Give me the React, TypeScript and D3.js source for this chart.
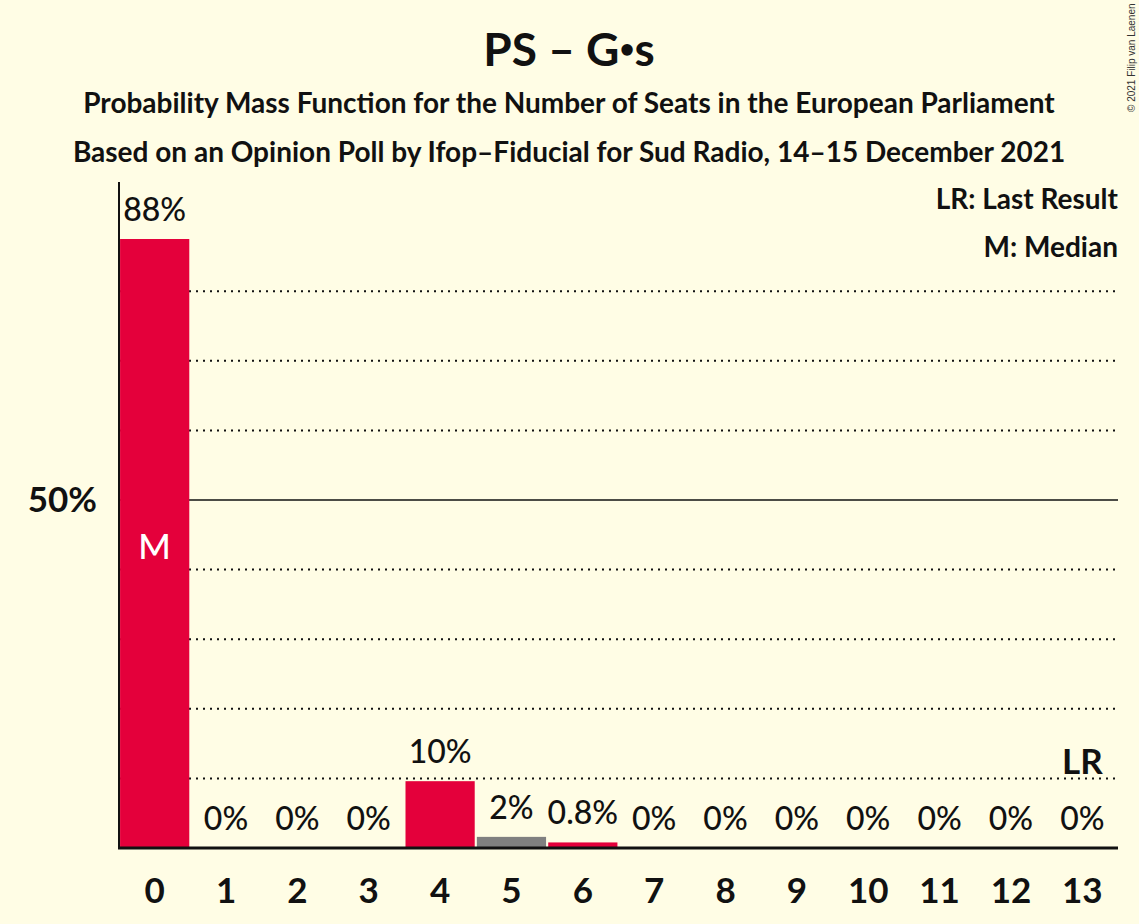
import { useRef, useEffect } from "react";
import * as d3 from "d3";

const seats = [0, 1, 2, 3, 4, 5, 6, 7, 8, 9, 10, 11, 12, 13];
const probs = [0.875, 0, 0, 0, 0.096, 0.016, 0.008, 0, 0, 0, 0, 0, 0, 0];
const labels = ["88%", "0%", "0%", "0%", "10%", "2%", "0.8%", "0%", "0%", "0%", "0%", "0%", "0%", "0%"];
const barColors = ["#E4003B", "#E4003B", "#E4003B", "#E4003B", "#E4003B", "#808080", "#E4003B", "#E4003B", "#E4003B", "#E4003B", "#E4003B", "#E4003B", "#E4003B", "#E4003B"];
const gridTicks = [0.1, 0.2, 0.3, 0.4, 0.6, 0.7, 0.8];
const medianSeat = 0;
const lastResultSeat = 13;

const W = 1139;
const H = 924;
const FONT = "Lato, 'Open Sans', sans-serif";
const BG = "#FFFDE5";

export default function App() {
  const ref = useRef<SVGSVGElement>(null);
  useEffect(() => {
    document.body.style.margin = "0";
    if (!ref.current) return;
    const svg = d3.select(ref.current);
    svg.selectAll("*").remove();

    const left = 119;
    const right = 1118;
    const base = 848;

    const x = d3.scaleBand<number>().domain(seats).range([left, right]).paddingInner(0.03).paddingOuter(0.015);
    const y = d3.scaleLinear().domain([0, 1]).range([base, 152]);

    svg.append("rect").attr("width", W).attr("height", H).attr("fill", BG);

    // gridlines
    svg.selectAll("line.grid")
      .data(gridTicks)
      .join("line")
      .attr("x1", left)
      .attr("x2", right)
      .attr("y1", (d) => y(d))
      .attr("y2", (d) => y(d))
      .attr("stroke", "#111")
      .attr("stroke-width", 2)
      .attr("stroke-dasharray", "2,5");

    svg.append("line")
      .attr("x1", left).attr("x2", right)
      .attr("y1", y(0.5)).attr("y2", y(0.5))
      .attr("stroke", "#111").attr("stroke-width", 1.5);

    // bars
    svg.selectAll("rect.bar")
      .data(seats)
      .join("rect")
      .attr("x", (d) => x(d)!)
      .attr("width", x.bandwidth())
      .attr("y", (d) => y(probs[d]))
      .attr("height", (d) => base - y(probs[d]))
      .attr("fill", (d) => barColors[d]);

    // value labels
    svg.selectAll("text.val")
      .data(seats)
      .join("text")
      .attr("x", (d) => x(d)! + x.bandwidth() / 2)
      .attr("y", (d) => y(probs[d]) - 18)
      .attr("text-anchor", "middle")
      .attr("font-family", FONT)
      .attr("font-size", 32)
      .attr("font-weight", 500)
      .attr("fill", "#111")
      .text((d) => labels[d]);

    // median marker
    svg.append("text")
      .attr("x", x(medianSeat)! + x.bandwidth() / 2)
      .attr("y", y(0.5) + 59)
      .attr("text-anchor", "middle")
      .attr("font-family", FONT)
      .attr("font-size", 35)
      .attr("font-weight", 500)
      .attr("fill", "#fff")
      .text("M");

    // last result marker
    svg.append("text")
      .attr("x", x(lastResultSeat)! + x.bandwidth() / 2)
      .attr("y", y(0.1) - 4)
      .attr("text-anchor", "middle")
      .attr("font-family", FONT)
      .attr("font-size", 35)
      .attr("font-weight", 700)
      .attr("fill", "#111")
      .text("LR");

    // axes
    svg.append("line")
      .attr("x1", left).attr("x2", left)
      .attr("y1", 182).attr("y2", base + 1)
      .attr("stroke", "#111").attr("stroke-width", 2);
    svg.append("line")
      .attr("x1", left - 1).attr("x2", right)
      .attr("y1", base).attr("y2", base)
      .attr("stroke", "#111").attr("stroke-width", 3);

    svg.selectAll("text.xt")
      .data(seats)
      .join("text")
      .attr("x", (d) => x(d)! + x.bandwidth() / 2)
      .attr("y", 903)
      .attr("text-anchor", "middle")
      .attr("font-family", FONT)
      .attr("font-size", 35)
      .attr("font-weight", 700)
      .attr("fill", "#111")
      .text((d) => String(d));

    svg.append("text")
      .attr("x", 97)
      .attr("y", y(0.5) + 12)
      .attr("text-anchor", "end")
      .attr("font-family", FONT)
      .attr("font-size", 35)
      .attr("font-weight", 700)
      .attr("fill", "#111")
      .text("50%");

    // titles
    const title = svg.append("text")
      .attr("x", 569).attr("y", 66)
      .attr("text-anchor", "middle")
      .attr("font-family", FONT).attr("font-size", 46).attr("font-weight", 700)
      .attr("fill", "#111");
    title.append("tspan").text("PS – G");
    title.append("tspan").attr("font-size", 26).attr("dy", -8).text("•");
    title.append("tspan").attr("dy", 8).text("s");

    svg.append("text")
      .attr("x", 569).attr("y", 113)
      .attr("text-anchor", "middle")
      .attr("font-family", FONT).attr("font-size", 28).attr("font-weight", 700)
      .attr("fill", "#111")
      .text("Probability Mass Function for the Number of Seats in the European Parliament");
    svg.append("text")
      .attr("x", 569).attr("y", 162)
      .attr("text-anchor", "middle")
      .attr("font-family", FONT).attr("font-size", 28).attr("font-weight", 700)
      .attr("fill", "#111")
      .text("Based on an Opinion Poll by Ifop–Fiducial for Sud Radio, 14–15 December 2021");

    // legend
    svg.append("text")
      .attr("x", right).attr("y", 209)
      .attr("text-anchor", "end")
      .attr("font-family", FONT).attr("font-size", 28).attr("font-weight", 700)
      .attr("fill", "#111")
      .text("LR: Last Result");
    svg.append("text")
      .attr("x", right).attr("y", 257)
      .attr("text-anchor", "end")
      .attr("font-family", FONT).attr("font-size", 28).attr("font-weight", 700)
      .attr("fill", "#111")
      .text("M: Median");

    // copyright
    svg.append("text")
      .attr("transform", "translate(1135, 112) rotate(-90)")
      .attr("font-family", "'Liberation Sans', Arial, sans-serif")
      .attr("font-size", 10)
      .attr("fill", "#333")
      .text("© 2021 Filip van Laenen");
  }, []);

  return <svg ref={ref} width={W} height={H} style={{ display: "block" }} />;
}
